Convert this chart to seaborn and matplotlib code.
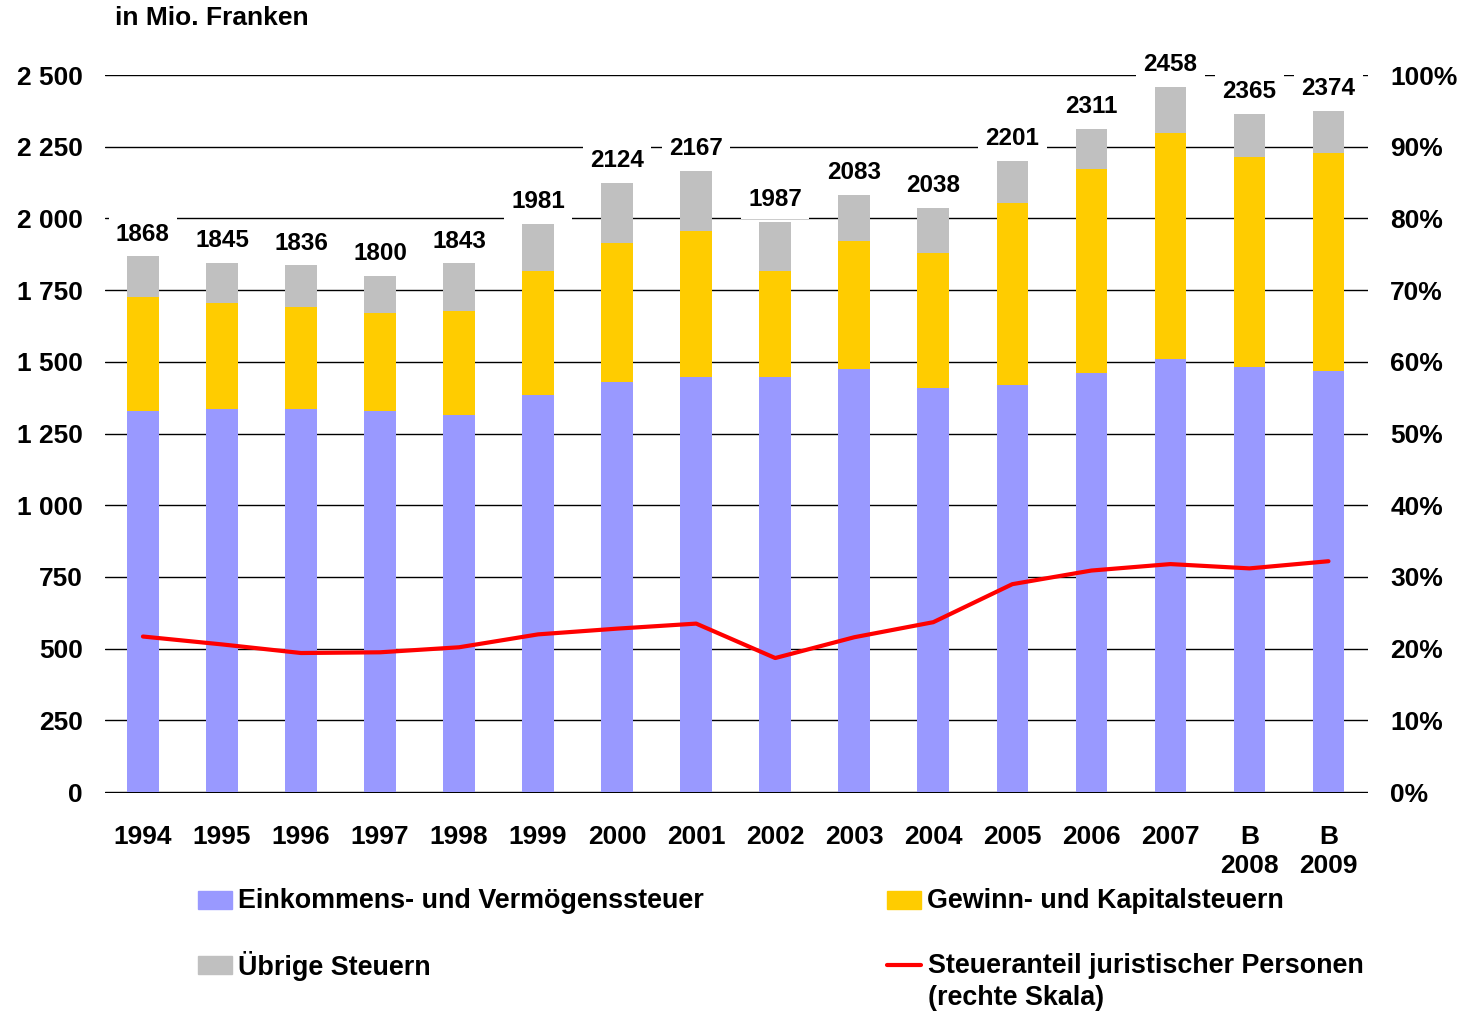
import numpy as np
import pandas as pd
import matplotlib
matplotlib.use('Agg')
import matplotlib.pyplot as plt
import seaborn as sns
from matplotlib.patches import Rectangle
from matplotlib.lines import Line2D
from matplotlib.ticker import FuncFormatter, MultipleLocator

# data (Mio. Franken)
years = ['1994', '1995', '1996', '1997', '1998', '1999', '2000', '2001',
         '2002', '2003', '2004', '2005', '2006', '2007', 'B\n2008', 'B\n2009']
einkommen = [1327, 1334, 1337, 1327, 1313, 1386, 1431, 1448,
             1448, 1476, 1410, 1421, 1462, 1511, 1483, 1469]
gewinn = [400, 372, 355, 344, 365, 432, 484, 509,
          370, 446, 470, 633, 711, 787, 731, 759]
total = [1868, 1845, 1836, 1800, 1843, 1981, 2124, 2167,
         1987, 2083, 2038, 2201, 2311, 2458, 2365, 2374]
anteil = [21.7, 20.6, 19.4, 19.5, 20.2, 22.0, 22.8, 23.5,
          18.7, 21.6, 23.7, 29.0, 30.9, 31.8, 31.2, 32.2]

blue = '#9999FF'
yellow = '#FFCC00'
grey = '#C0C0C0'
red = '#FF0000'

sns.set_style('white')
plt.rcParams['font.family'] = ['Liberation Sans', 'DejaVu Sans']
plt.rcParams['font.weight'] = 'bold'
plt.rcParams['text.color'] = 'black'
plt.rcParams['xtick.color'] = 'black'
plt.rcParams['ytick.color'] = 'black'

df = pd.DataFrame({'jahr': years, 'einkommen': einkommen,
                   'gewinn': gewinn, 'total': total, 'anteil': anteil})
df['ein_gew'] = df['einkommen'] + df['gewinn']

W, H = 1463, 1013
fig = plt.figure(figsize=(W / 100, H / 100), dpi=100)
ax = fig.add_axes([105 / W, 1 - 793 / H, (1368 - 105) / W, (793 - 75) / H])

# stacked bars: draw cumulative heights back to front
for col, c in [('total', grey), ('ein_gew', yellow), ('einkommen', blue)]:
    sns.barplot(data=df, x='jahr', y=col, color=c, width=0.4,
                saturation=1, linewidth=0, ax=ax, zorder=2)

ax.set_ylim(-3, 2500)
ax.set_xlim(-0.48, 15.5)
ax.yaxis.set_major_locator(MultipleLocator(250))
ax.yaxis.set_major_formatter(FuncFormatter(lambda v, p: f'{int(v):,}'.replace(',', ' ')))
ax.grid(axis='y', color='black', lw=1.0, zorder=0)
ax.set_axisbelow(True)
for s in ax.spines.values():
    s.set_visible(False)
ax.set_xlabel('')
ax.set_ylabel('')
ax.tick_params(axis='y', length=0, pad=16, labelsize=19)
ax.tick_params(axis='x', length=0, pad=23, labelsize=19)
for t in ax.get_xticklabels() + ax.get_yticklabels():
    t.set_fontweight('bold')
    t.set_linespacing(1.25)

# total labels with white boxes over the gridlines
for i, v in enumerate(df['total']):
    ax.annotate(str(v), (i, v), xytext=(0, 16), textcoords='offset points',
                ha='center', va='center', fontsize=17.5, fontweight='bold',
                zorder=5,
                bbox=dict(boxstyle='square,pad=0.3', fc='white', ec='none'))

# share of legal entities, right axis
ax2 = ax.twinx()
ax2.set_ylim(-0.12, 100)
ax2.set_xlim(-0.48, 15.5)
ax2.yaxis.set_major_locator(MultipleLocator(10))
ax2.yaxis.set_major_formatter(FuncFormatter(lambda v, p: f'{v:.0f}%'))
ax2.tick_params(axis='y', length=0, pad=16, labelsize=19)
for t in ax2.get_yticklabels():
    t.set_fontweight('bold')
for s in ax2.spines.values():
    s.set_visible(False)
sns.lineplot(x=np.arange(len(years)), y=df['anteil'], color=red, lw=3,
             ax=ax2, zorder=4)
ax2.set_ylabel('')
ax2.set_xlim(-0.48, 15.5)

fig.text(115 / W, 1 - 18 / H, 'in Mio. Franken', fontsize=19,
         fontweight='bold', ha='left', va='center')

# legend drawn by hand (two columns)
def fx(x):
    return x / W

def fy(y):
    return 1 - y / H

leg_font = dict(fontsize=19.4, fontweight='bold', va='center', ha='left')
for (x0, y0, col, label) in [(198, 900, blue, 'Einkommens- und Vermögenssteuer'),
                             (887, 900, yellow, 'Gewinn- und Kapitalsteuern'),
                             (198, 965, grey, 'Übrige Steuern')]:
    fig.patches.append(Rectangle((fx(x0), fy(y0 + 9)), 34 / W, 18 / H,
                                 transform=fig.transFigure, color=col))
    fig.text(fx(x0 + 40), fy(y0 + 1), label, **leg_font)
fig.lines.append(Line2D([fx(887), fx(921)], [fy(965), fy(965)],
                        transform=fig.transFigure, color=red, lw=3))
fig.text(fx(928), fy(966), 'Steueranteil juristischer Personen', **leg_font)
fig.text(fx(928), fy(998), '(rechte Skala)', **leg_font)

fig.savefig('out.png', dpi=100)
